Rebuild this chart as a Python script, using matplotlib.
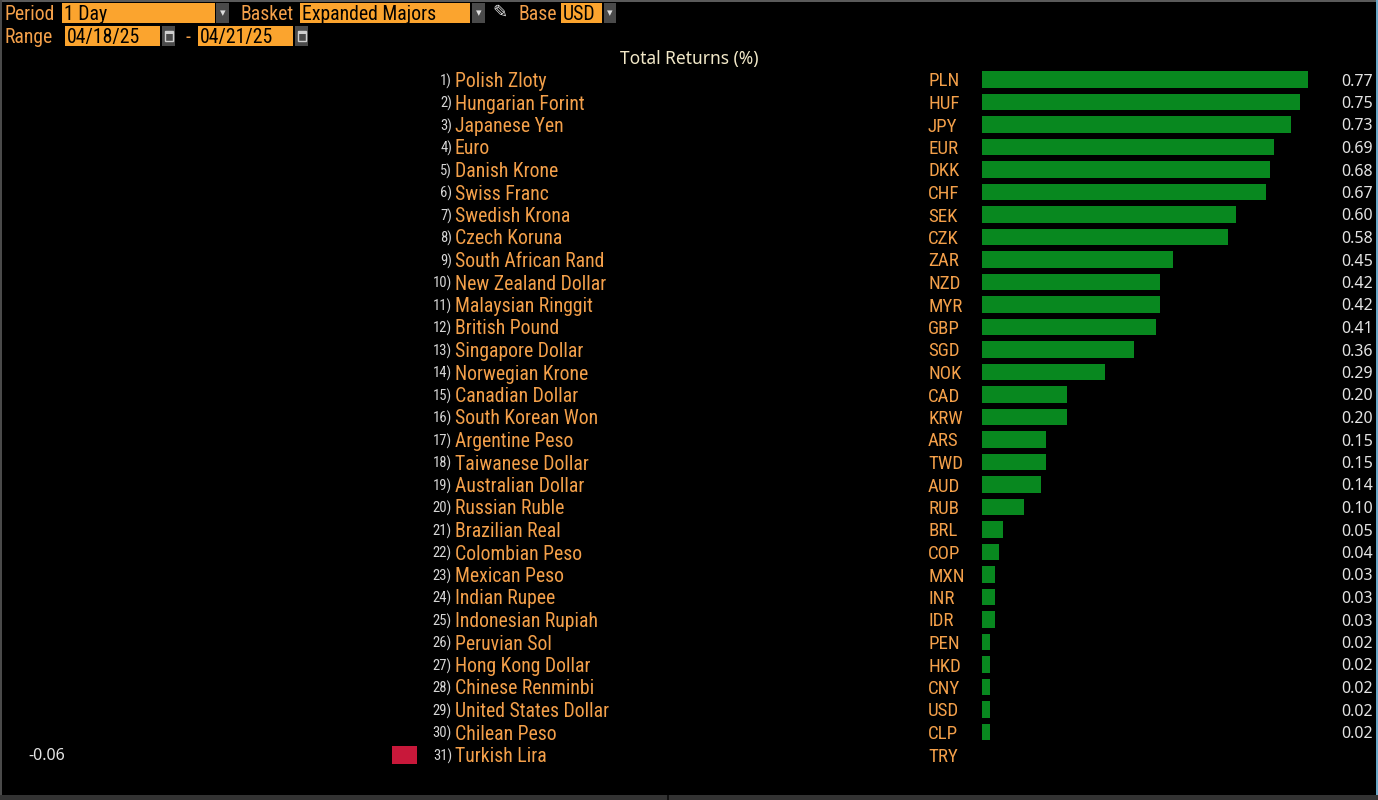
import matplotlib
matplotlib.use("Agg")
import matplotlib.pyplot as plt
from matplotlib import font_manager
from matplotlib.patches import Rectangle
from matplotlib.transforms import blended_transform_factory

# ---------------- data ----------------
names = ["Polish Zloty", "Hungarian Forint", "Japanese Yen", "Euro", "Danish Krone",
         "Swiss Franc", "Swedish Krona", "Czech Koruna", "South African Rand",
         "New Zealand Dollar", "Malaysian Ringgit", "British Pound", "Singapore Dollar",
         "Norwegian Krone", "Canadian Dollar", "South Korean Won", "Argentine Peso",
         "Taiwanese Dollar", "Australian Dollar", "Russian Ruble", "Brazilian Real",
         "Colombian Peso", "Mexican Peso", "Indian Rupee", "Indonesian Rupiah",
         "Peruvian Sol", "Hong Kong Dollar", "Chinese Renminbi", "United States Dollar",
         "Chilean Peso", "Turkish Lira"]
codes = ["PLN", "HUF", "JPY", "EUR", "DKK", "CHF", "SEK", "CZK", "ZAR", "NZD", "MYR",
         "GBP", "SGD", "NOK", "CAD", "KRW", "ARS", "TWD", "AUD", "RUB", "BRL", "COP",
         "MXN", "INR", "IDR", "PEN", "HKD", "CNY", "USD", "CLP", "TRY"]
values = [0.77, 0.75, 0.73, 0.69, 0.68, 0.67, 0.60, 0.58, 0.45, 0.42, 0.42, 0.41,
          0.36, 0.29, 0.20, 0.20, 0.15, 0.15, 0.14, 0.10, 0.05, 0.04, 0.03, 0.03,
          0.03, 0.02, 0.02, 0.02, 0.02, 0.02, -0.06]
title = "Total Returns (%)"
period = "1 Day"
basket = "Expanded Majors"
base = "USD"
start_date = "04/18/25"
end_date = "04/21/25"

# ---------------- fonts ----------------
avail = {f.name for f in font_manager.fontManager.ttflist}
narrow = None
for cand in ["Roboto Condensed", "Liberation Sans Narrow", "DejaVu Sans Condensed",
             "Open Sans Condensed"]:
    if cand in avail:
        narrow = cand
        break
if narrow is None:
    narrow = "DejaVu Sans"
FAM = [narrow, "DejaVu Sans"]
WIDE = ["Noto Sans", "Open Sans", "DejaVu Sans"]

W, H = 1378, 800
fig = plt.figure(figsize=(W / 100, H / 100), dpi=100, facecolor="black")

def fx(px):
    return px / W

def fy(py):
    return 1 - py / H

ORANGE_TXT = "#f4a04a"
BOX = "#fba42e"
GRAY_BOX = "#4a4a4a"
GREEN = "#08881f"
RED = "#c8183a"
VAL = "#e4e4e4"
IDX = "#d6d6d6"

n = len(values)
row0 = 79.5
step = 22.5
top_px = row0 - step / 2
bot_px = row0 + step * (n - 1) + step / 2
ppu = 326 / 0.77  # pixels per unit of return

# positive axis
pos_left, pos_right = 982, 1330
ax = fig.add_axes([fx(pos_left), fy(bot_px), fx(pos_right - pos_left), (bot_px - top_px) / H])
ax.set_xlim(0, (pos_right - pos_left) / ppu)
# negative axis
neg_left, neg_right = 25, 417
axn = fig.add_axes([fx(neg_left), fy(bot_px), fx(neg_right - neg_left), (bot_px - top_px) / H])
axn.set_xlim(-(neg_right - neg_left) / ppu, 0)

for a in (ax, axn):
    a.set_ylim(n - 0.5, -0.5)
    a.set_facecolor("none")
    a.axis("off")

ypos = list(range(n))
pos_vals = [v if v > 0 else 0 for v in values]
neg_vals = [v if v < 0 else 0 for v in values]
ax.barh(ypos, pos_vals, height=0.74, color=GREEN, linewidth=0)
axn.barh(ypos, neg_vals, height=0.80, color=RED, linewidth=0)

tr = blended_transform_factory(fig.transFigure, ax.transData)
for i, (nm, cd, v) in enumerate(zip(names, codes, values)):
    fig.text(fx(452), i, f"{i + 1})", transform=tr, ha="right", va="center_baseline",
             color=IDX, fontsize=10.5, family=FAM)
    fig.text(fx(455), i, nm, transform=tr, ha="left", va="center_baseline",
             color=ORANGE_TXT, fontsize=14.2, family=FAM)
    fig.text(fx(928), i, cd, transform=tr, ha="left", va="center_baseline",
             color=ORANGE_TXT, fontsize=13.6, family=FAM)
    if v >= 0:
        fig.text(fx(1373), i, f"{v:.2f}", transform=tr, ha="right", va="center_baseline",
                 color=VAL, fontsize=11.5, family=WIDE)
    else:
        fig.text(fx(28), i, f"{v:.2f}", transform=tr, ha="left", va="center_baseline",
                 color=VAL, fontsize=11.5, family=WIDE)

fig.text(fx(689), fy(57), title, ha="center", va="center_baseline", color="#f2e8c8",
         fontsize=12.5, family=WIDE)

# ---------------- header controls ----------------
def box(x0, x1, y0, y1, color):
    fig.add_artist(Rectangle((fx(x0), fy(y1)), fx(x1 - x0), (y1 - y0) / H,
                             transform=fig.transFigure, facecolor=color,
                             edgecolor="none"))

def dropdown(x0, x1, y0, y1):
    box(x0, x1, y0, y1, GRAY_BOX)
    fig.text(fx((x0 + x1) / 2), fy((y0 + y1) / 2), "\u25BE", ha="center", va="center",
             color="#dddddd", fontsize=8, family="DejaVu Sans")

def calendar(x0, x1, y0, y1):
    box(x0, x1, y0, y1, GRAY_BOX)
    cx = (x0 + x1) / 2
    fig.add_artist(Rectangle((fx(cx - 4), fy((y0 + y1) / 2 + 5)), fx(8), 10 / H,
                             transform=fig.transFigure, facecolor="none",
                             edgecolor="#cfcfcf", linewidth=1.0))
    fig.add_artist(Rectangle((fx(cx - 4), fy((y0 + y1) / 2 - 2)), fx(8), 3 / H,
                             transform=fig.transFigure, facecolor="#cfcfcf",
                             edgecolor="none"))

HFS = 14.2
y1c = 13
fig.text(fx(5), fy(y1c), "Period", ha="left", va="center_baseline", color=ORANGE_TXT, fontsize=HFS, family=FAM)
box(62, 215, 3, 23, BOX)
fig.text(fx(64), fy(y1c), period, ha="left", va="center_baseline", color="black", fontsize=HFS, family=FAM)
dropdown(216, 229, 3, 23)
fig.text(fx(241), fy(y1c), "Basket", ha="left", va="center_baseline", color=ORANGE_TXT, fontsize=HFS, family=FAM)
box(300, 470, 3, 23, BOX)
fig.text(fx(302), fy(y1c), basket, ha="left", va="center_baseline", color="black", fontsize=HFS, family=FAM)
dropdown(472, 485, 3, 23)
fig.text(fx(500), fy(y1c), "\u270E", ha="center", va="center", color="#e0e0e0",
         fontsize=13, family="DejaVu Sans")
fig.text(fx(519), fy(y1c), "Base", ha="left", va="center_baseline", color=ORANGE_TXT, fontsize=HFS, family=FAM)
box(561, 602, 3, 23, BOX)
fig.text(fx(563), fy(y1c), base, ha="left", va="center_baseline", color="black", fontsize=HFS, family=FAM)
dropdown(604, 616, 3, 23)

y2c = 35.5
fig.text(fx(5), fy(y2c), "Range", ha="left", va="center_baseline", color=ORANGE_TXT, fontsize=HFS, family=FAM)
box(65, 160, 26, 46, BOX)
fig.text(fx(67), fy(y2c), start_date, ha="left", va="center_baseline", color="black", fontsize=HFS, family=FAM)
calendar(162, 175, 26, 46)
fig.text(fx(188), fy(y2c), "-", ha="center", va="center_baseline", color=ORANGE_TXT, fontsize=HFS, family=FAM)
box(198, 293, 26, 46, BOX)
fig.text(fx(200), fy(y2c), end_date, ha="left", va="center_baseline", color="black", fontsize=HFS, family=FAM)
calendar(295, 308, 26, 46)

# ---------------- frame decorations ----------------
box(0, W, 0, 2, "#5a5a5a")
box(0, 2, 0, H, "#4a4a4a")
box(0, W, 795, H, "#333333")
box(667, 669, 795, H, "#111111")
box(1376, W, 0, 795, "#6aa8c8")

fig.savefig("out.png", dpi=100, facecolor="black")
